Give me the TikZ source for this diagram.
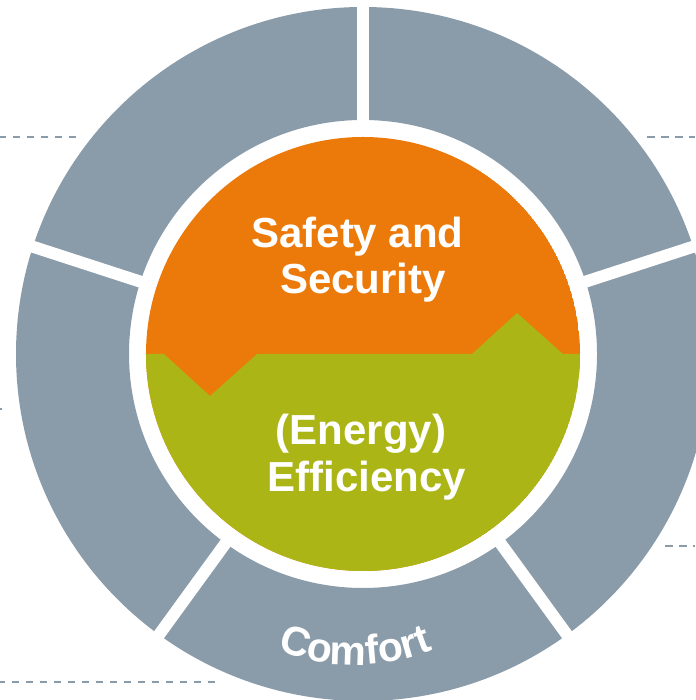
\documentclass[tikz,border=0pt]{standalone}
\usepackage{fontspec}
\setmainfont{Liberation Sans}
\usetikzlibrary{decorations.text}
\definecolor{ringgray}{HTML}{8A9BA9}
\definecolor{safeorange}{HTML}{EC7A0B}
\definecolor{effgreen}{HTML}{ABB516}
\begin{document}
\begin{tikzpicture}[x=1pt,y=1pt,
  lbl/.style={text=white, font=\fontsize{42}{42}\selectfont\bfseries, anchor=base, inner sep=0pt},
  dashln/.style={ringgray, line width=2pt, dash pattern=on 7.5pt off 6.5pt}]
\useasboundingbox (0,0) rectangle (695,700);
\coordinate (c) at (363,346);
% outer ring
\fill[ringgray, even odd rule] (c) circle[radius=347pt] (c) circle[radius=234pt];
\foreach \a in {90,162,234,306,18}
  \draw[white, line width=12pt] (c) ++(\a:200pt) -- ++(\a:170pt);
% inner disc
\begin{scope}
\clip (c) circle[radius=217pt];
\fill[safeorange] (c) circle[radius=217pt];
\fill[effgreen] (100,346) -- (164,346) -- (210,304) -- (257,346) -- (472,346)
  -- (517,387) -- (563,346) -- (620,346) -- (620,100) -- (100,100) -- cycle;
\end{scope}
% labels
\node[lbl] (safety) at (357.5,452) {Safety and};
\node[lbl] (security) at (363,406) {Security};
\node[lbl] (energy) at (361,255) {(Energy)};
\node[lbl] (efficiency) at (367,208) {Efficiency};
\path[decorate, decoration={text along path,
    text={|\fontsize{41}{41}\selectfont\bfseries|Comfort},
    text align=center, text color=white}]
  (355,245) ++(-125:210pt) arc[start angle=-125, end angle=-55, radius=210pt];
% dashed leader lines
\draw[dashln] (76,563) -- (0,563);
\draw[dashln] (647,563) -- (695,563);
\draw[dashln] (665,154) -- (695,154);
\draw[dashln] (215,18) -- (0,18);
\draw[ringgray, line width=2pt] (0,291) -- (2,291);
\end{tikzpicture}
\end{document}
